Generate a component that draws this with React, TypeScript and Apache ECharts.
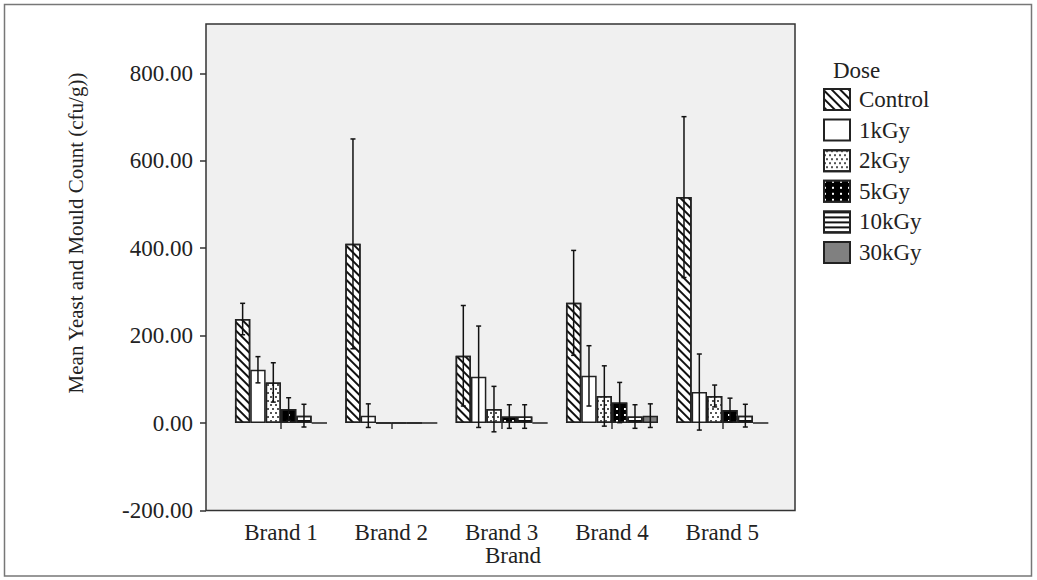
import React, { useEffect, useRef } from "react";
import * as echarts from "echarts";

const categories = ["Brand 1", "Brand 2", "Brand 3", "Brand 4", "Brand 5"];
const doses = ["Control", "1kGy", "2kGy", "5kGy", "10kGy", "30kGy"];
const controlMean = [238, 410, 154, 275, 517];
const kGy1Mean = [122, 17, 106, 108, 71];
const kGy2Mean = [93, 0, 32, 62, 62];
const kGy5Mean = [32, 0, 15, 47, 30];
const kGy10Mean = [17, 0, 15, 15, 17];
const kGy30Mean = [0, 0, 0, 17, 0];
const controlErr = [36, 240, 115, 120, 184];
const kGy1Err = [30, 27, 116, 69, 87];
const kGy2Err = [45, 0, 52, 69, 25];
const kGy5Err = [26, 0, 27, 46, 27];
const kGy10Err = [26, 0, 27, 27, 26];
const kGy30Err = [0, 0, 0, 27, 0];
const yTicks = [-200, 0, 200, 400, 600, 800];

const means = [controlMean, kGy1Mean, kGy2Mean, kGy5Mean, kGy10Mean, kGy30Mean];
const errs = [controlErr, kGy1Err, kGy2Err, kGy5Err, kGy10Err, kGy30Err];

const FONT = "Liberation Serif";
const FS = 23;
const TXT = "#222";
const GAP = 0.166;

const styles: any[] = [
  { color: "#fff", decal: { symbol: "rect", symbolSize: 1, dashArrayX: [1, 0], dashArrayY: [1.6, 3.4], rotation: Math.PI / 4, color: "#111" } },
  { color: "#fff" },
  { color: "#fff", decal: { symbol: "rect", symbolSize: 1, dashArrayX: [[1.2, 2.8], [0, 2, 1.2, 0.8]], dashArrayY: [1.2, 1.8], color: "#555" } },
  { color: "#000", decal: { symbol: "rect", symbolSize: 1, dashArrayX: [1.5, 6], dashArrayY: [1.5, 4], color: "#fff" } },
  { color: "#fff", decal: { symbol: "rect", symbolSize: 1, dashArrayX: [1, 0], dashArrayY: [1.5, 3], rotation: 0, color: "#111" } },
  { color: "#808080" },
];

export default function App() {
  const ref = useRef<HTMLDivElement>(null);
  useEffect(() => {
    if (!ref.current) return;
    const chart = echarts.init(ref.current, null, { renderer: "svg" });
    const barSeries = doses.map((d, i) => ({
      type: "bar",
      name: d,
      data: means[i],
      barGap: "0%",
      barCategoryGap: (GAP * 100).toFixed(1) + "%",
      itemStyle: { ...styles[i], borderColor: "#222", borderWidth: 1.5 },
      z: 2,
    }));
    const errData: any[] = [];
    for (let d = 0; d < doses.length; d++) {
      for (let c = 0; c < categories.length; c++) {
        if (errs[d][c] > 0) errData.push([c, means[d][c] - errs[d][c], means[d][c] + errs[d][c], d]);
      }
    }
    const errSeries = {
      type: "custom",
      name: "err",
      data: errData,
      z: 5,
      renderItem: (params: any, api: any) => {
        const c = api.value(0);
        const d = api.value(3);
        const bandW = api.size([1, 0])[0];
        const groupW = bandW * (1 - GAP);
        const barW = groupW / doses.length;
        const x0 = api.coord([c, 0])[0];
        const cx = x0 - groupW / 2 + barW * (d + 0.5);
        const yLo = api.coord([c, api.value(1)])[1];
        const yHi = api.coord([c, api.value(2)])[1];
        const cap = 2.5;
        const st = { stroke: "#111", lineWidth: 1.5 };
        return {
          type: "group",
          children: [
            { type: "line", shape: { x1: cx, y1: yLo, x2: cx, y2: yHi }, style: st },
            { type: "line", shape: { x1: cx - cap, y1: yHi, x2: cx + cap, y2: yHi }, style: st },
            { type: "line", shape: { x1: cx - cap, y1: yLo, x2: cx + cap, y2: yLo }, style: st },
          ],
        };
      },
    };
    chart.setOption({
      animation: false,
      backgroundColor: "#fff",
      textStyle: { fontFamily: FONT },
      grid: { left: 225.8, top: 24, width: 551.7, height: 486.5 },
      xAxis: {
        type: "category",
        data: categories,
        axisLine: { show: false },
        axisTick: { show: true, alignWithLabel: true, length: 6, lineStyle: { color: "#333", width: 1.5 } },
        axisLabel: { fontFamily: FONT, fontSize: FS, color: TXT, margin: 11, lineHeight: 22 },
        splitLine: { show: false },
      },
      yAxis: {
        type: "value",
        min: -200,
        max: 913,
        interval: 200,
        offset: 19.8,
        axisLine: { show: false },
        axisTick: { show: true, length: 6, customValues: yTicks, lineStyle: { color: "#333", width: 1.5 } },
        axisLabel: {
          fontFamily: FONT,
          fontSize: FS,
          color: TXT,
          margin: 13,
          customValues: yTicks,
          formatter: (v: number) => v.toFixed(2),
        },
        splitLine: { show: false },
      },
      legend: {
        data: doses,
        orient: "vertical",
        left: 823,
        top: 88,
        padding: 0,
        itemWidth: 26,
        itemHeight: 21,
        itemGap: 7.6,
        icon: "rect",
        selectedMode: false,
        textStyle: { fontFamily: FONT, fontSize: FS, color: TXT, padding: [0, 0, 0, 4], lineHeight: 21 },
      },
      graphic: [
        {
          type: "rect",
          shape: { x: 4.5, y: 4.5, width: 1027, height: 571.5 },
          style: { fill: "none", stroke: "#777", lineWidth: 1.5 },
          z: 0,
        },
        {
          type: "rect",
          shape: { x: 206, y: 24, width: 589, height: 486.5 },
          style: { fill: "#f0f0f0", stroke: "#333", lineWidth: 1.5 },
          z: 0,
        },
        {
          type: "text",
          x: 833,
          y: 70,
          style: { text: "Dose", font: `${FS}px ${FONT}`, fill: TXT, textAlign: "left", textVerticalAlign: "middle" },
        },
        {
          type: "text",
          x: 513,
          y: 555,
          style: { text: "Brand", font: `${FS}px ${FONT}`, fill: TXT, textAlign: "center", textVerticalAlign: "middle" },
        },
        {
          type: "text",
          x: 76,
          y: 233,
          rotation: Math.PI / 2,
          style: {
            text: "Mean Yeast and Mould Count (cfu/g))",
            font: `21px ${FONT}`,
            fill: TXT,
            textAlign: "center",
            textVerticalAlign: "middle",
          },
        },
      ],
      series: [...barSeries, errSeries],
    });
    return () => chart.dispose();
  }, []);
  return <div ref={ref} style={{ position: "fixed", left: 0, top: 0, width: 1037, height: 580 }} />;
}
